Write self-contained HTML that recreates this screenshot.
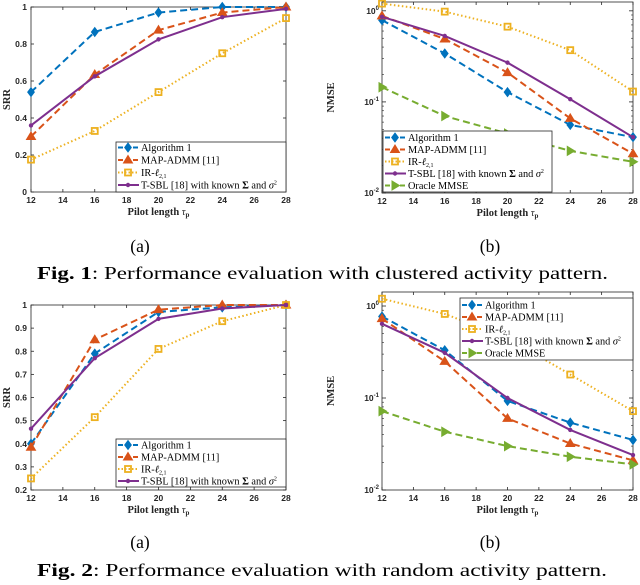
<!DOCTYPE html>
<html><head><meta charset="utf-8"><style>
body{margin:0;background:#fff;}
svg{display:block;}
.tick{font-family:"Liberation Sans",sans-serif;font-size:8.5px;font-weight:bold;fill:#262626;}
.lab{font-family:"Liberation Serif",serif;font-size:10.5px;fill:#262626;}
.leg{font-family:"Liberation Serif",serif;font-size:10.3px;fill:#000;}
.cap{font-family:"Liberation Serif",serif;font-size:17.5px;fill:#000;}
</style></head><body>
<svg id="fig" xmlns="http://www.w3.org/2000/svg" width="640" height="585" viewBox="0 0 640 585">
<text class="cap" x="140" y="252" text-anchor="middle">(a)</text>
<text class="cap" x="490" y="252" text-anchor="middle">(b)</text>
<text class="cap" x="37" y="279" textLength="571" lengthAdjust="spacingAndGlyphs"><tspan font-weight="bold">Fig. 1</tspan>: Performance evaluation with clustered activity pattern.</text>
<text class="cap" x="140" y="548" text-anchor="middle">(a)</text>
<text class="cap" x="490" y="548" text-anchor="middle">(b)</text>
<text class="cap" x="37" y="576" textLength="570" lengthAdjust="spacingAndGlyphs"><tspan font-weight="bold">Fig. 2</tspan>: Performance evaluation with random activity pattern.</text>
</svg>
<script>
const pilotLengths=[12,16,20,24,28];
const xTicks=[12,14,16,18,20,22,24,26,28];
const seriesNames=["Algorithm 1","MAP-ADMM [11]","IR-\u2113","T-SBL [18] with known \u03A3 and \u03C3","Oracle MMSE"];
// Fig 1a SRR
const f1a_alg1=[0.54,0.865,0.97,1.0,1.0];
const f1a_map=[0.30,0.635,0.875,0.97,1.0];
const f1a_ir=[0.175,0.33,0.54,0.75,0.94];
const f1a_tsbl=[0.36,0.625,0.825,0.945,0.99];
const f1a_yticks=[0,0.2,0.4,0.6,0.8,1];
// Fig 1b NMSE
const f1b_alg1=[0.79,0.34,0.128,0.056,0.041];
const f1b_map=[0.88,0.49,0.21,0.066,0.027];
const f1b_ir=[1.2,0.98,0.67,0.37,0.13];
const f1b_tsbl=[0.86,0.53,0.27,0.107,0.041];
const f1b_oracle=[0.145,0.07,0.045,0.029,0.022];
// Fig 2a SRR
const f2a_alg1=[0.40,0.79,0.97,0.99,1.0];
const f2a_map=[0.385,0.85,0.98,1.0,1.0];
const f2a_ir=[0.25,0.515,0.81,0.93,1.0];
const f2a_tsbl=[0.465,0.77,0.94,0.985,1.0];
const f2a_yticks=[0.2,0.3,0.4,0.5,0.6,0.7,0.8,0.9,1];
// Fig 2b NMSE
const f2b_alg1=[0.77,0.33,0.093,0.054,0.035];
const f2b_map=[0.73,0.25,0.06,0.032,0.021];
const f2b_ir=[1.2,0.82,0.45,0.18,0.072];
const f2b_tsbl=[0.64,0.31,0.1,0.045,0.024];
const f2b_oracle=[0.072,0.043,0.030,0.023,0.019];

const NS="http://www.w3.org/2000/svg";
const svg=document.getElementById('fig');
const styles=[
 {c:"#0072BD",dash:"7,4",m:"diamond",w:2},
 {c:"#D95319",dash:"7,4",m:"tri",w:2},
 {c:"#EDB120",dash:"1.5,2.5",m:"square",w:2},
 {c:"#7E2F8E",dash:"",m:"dot",w:2},
 {c:"#77AC30",dash:"7,4",m:"triR",w:2}];
function mk(tag,attrs,parent){const e=document.createElementNS(NS,tag);for(const k in attrs)e.setAttribute(k,attrs[k]);(parent||svg).appendChild(e);return e;}
function marker(g,type,x,y,c){
  let e;
  if(type==="diamond")e=mk('polygon',{points:`${x},${y-4} ${x+3},${y} ${x},${y+4} ${x-3},${y}`,fill:c,stroke:c,'stroke-width':1.5},g);
  else if(type==="tri")e=mk('polygon',{points:`${x},${y-4.5} ${x+4.5},${y+3} ${x-4.5},${y+3}`,fill:c,stroke:c,'stroke-width':1},g);
  else if(type==="square")e=mk('rect',{x:x-3,y:y-3,width:6,height:6,fill:"none",stroke:c,'stroke-width':1.8},g);
  else if(type==="dot")e=mk('circle',{cx:x,cy:y,r:2.2,fill:c},g);
  else e=mk('polygon',{points:`${x+4.5},${y} ${x-3},${y-4.5} ${x-3},${y+4.5}`,fill:c,stroke:c,'stroke-width':1},g);
  
  
}
function panel(o){
  const g=mk('g',{});
  
  
  const L=o.L,R=o.R,T=o.T,B=o.B;
  const sx=v=>L+(v-12)/(28-12)*(R-L);
  let sy;
  if(o.log){const lmin=-2,lmax=Math.log10(o.ymax);sy=v=>B-(Math.log10(v)-lmin)/(lmax-lmin)*(B-T);}
  else sy=v=>B-(v-o.ymin)/(o.ymax-o.ymin)*(B-T);
  mk('rect',{x:L,y:T,width:R-L,height:B-T,fill:"#fff",stroke:"#262626",'stroke-width':0.8},g);
  xTicks.forEach(t=>{const x=sx(t);
    mk('line',{x1:x,y1:B,x2:x,y2:B-3,stroke:"#262626",'stroke-width':0.8},g);
    mk('line',{x1:x,y1:T,x2:x,y2:T+3,stroke:"#262626",'stroke-width':0.8},g);
    const tx=mk('text',{x:x,y:B+11,'text-anchor':'middle','class':'tick'},g);tx.textContent=t;
    });
  if(o.log){
    for(let d=-2;d<=0;d++){const y=sy(Math.pow(10,d));
      mk('line',{x1:L,y1:y,x2:L+4,y2:y,stroke:"#262626",'stroke-width':0.8},g);
      mk('line',{x1:R,y1:y,x2:R-4,y2:y,stroke:"#262626",'stroke-width':0.8},g);
      const tx=mk('text',{x:L-3,y:y+3,'text-anchor':'end','class':'tick'},g);
      tx.innerHTML='10<tspan dy="-4" font-size="6">'+d+'</tspan>';
      
      for(let m=2;m<10&&d<0;m++){const ym=sy(m*Math.pow(10,d));
        mk('line',{x1:L,y1:ym,x2:L+2,y2:ym,stroke:"#262626",'stroke-width':0.6},g);
        mk('line',{x1:R,y1:ym,x2:R-2,y2:ym,stroke:"#262626",'stroke-width':0.6},g);}
    }
  } else {
    o.yticks.forEach(t=>{const y=sy(t);
      mk('line',{x1:L,y1:y,x2:L+3,y2:y,stroke:"#262626",'stroke-width':0.8},g);
      mk('line',{x1:R,y1:y,x2:R-3,y2:y,stroke:"#262626",'stroke-width':0.8},g);
      const tx=mk('text',{x:L-4,y:y+3,'text-anchor':'end','class':'tick'},g);tx.textContent=String(t);
      });
  }
  const yl=mk('text',{x:0,y:0,'class':'lab','font-weight':'bold','text-anchor':'middle',transform:`translate(${o.ylx},${(T+B)/2}) rotate(-90)`},g);
  yl.textContent=o.ylabel;
  const xl=mk('text',{x:(L+R)/2,y:B+23,'class':'lab','font-weight':'bold','text-anchor':'middle'},g);
  xl.innerHTML='Pilot length <tspan font-style="italic" font-weight="normal">\u03C4</tspan><tspan font-size="7" dy="2">p</tspan>';
  
  o.series.forEach((s,i)=>{const st=styles[i];
    const pts=pilotLengths.map((p,j)=>sx(p)+','+sy(s[j])).join(' ');
    const pl=mk('polyline',{points:pts,fill:'none',stroke:st.c,'stroke-width':st.w,'stroke-dasharray':st.dash},g);
    
    pilotLengths.forEach((p,j)=>marker(g,st.m,sx(p),sy(s[j]),st.c));});
  const lg=o.leg;
  const lgG=mk('g',{},g);
  
  mk('rect',{x:lg.x,y:lg.y,width:lg.w,height:lg.h,fill:'#fff',stroke:'#262626','stroke-width':0.8},lgG);
  o.series.forEach((s,i)=>{const st=styles[i];const y=lg.y+lg.y0+i*lg.dy;
    mk('line',{x1:lg.x+2,y1:y,x2:lg.x+23,y2:y,stroke:st.c,'stroke-width':2,'stroke-dasharray':st.dash?(i==2?"1.5,2":"5,2.5"):""},lgG);
    marker(lgG,st.m,lg.x+12,y,st.c);
    const t=mk('text',{x:lg.x+25,y:y+3.5,'class':'leg'},lgG);
    if(i==2)t.innerHTML='IR-<tspan font-style="italic">\u2113</tspan><tspan font-size="6" dy="2">2,1</tspan>';
    else if(i==3)t.innerHTML='T-SBL [18] with known <tspan font-weight="bold">\u03A3</tspan> and <tspan font-style="italic">\u03C3</tspan><tspan font-size="6" dy="-4">2</tspan>';
    else t.textContent=seriesNames[i];
    });
}
panel({name:'chart-1a',L:31,R:286,T:7,B:192,ymin:0,ymax:1,yticks:f1a_yticks,ylabel:'SRR',ylx:10,
  series:[f1a_alg1,f1a_map,f1a_ir,f1a_tsbl],leg:{x:116,y:142,w:170,h:50,y0:5.5,dy:12.5}});
panel({name:'chart-1b',L:382,R:633,T:2,B:193,log:true,ymax:1.25,ylabel:'NMSE',ylx:334,
  series:[f1b_alg1,f1b_map,f1b_ir,f1b_tsbl,f1b_oracle],leg:{x:383,y:131,w:169,h:61,y0:6.5,dy:12}});
panel({name:'chart-2a',L:31,R:286,T:305,B:490,ymin:0.2,ymax:1,yticks:f2a_yticks,ylabel:'SRR',ylx:10,
  series:[f2a_alg1,f2a_map,f2a_ir,f2a_tsbl],leg:{x:116,y:439,w:170,h:48,y0:6,dy:12}});
panel({name:'chart-2b',L:382,R:633,T:292,B:490,log:true,ymax:1.42,ylabel:'NMSE',ylx:334,
  series:[f2b_alg1,f2b_map,f2b_ir,f2b_tsbl,f2b_oracle],leg:{x:460,y:298,w:173,h:62,y0:7,dy:12}});
</script>
</body></html>
